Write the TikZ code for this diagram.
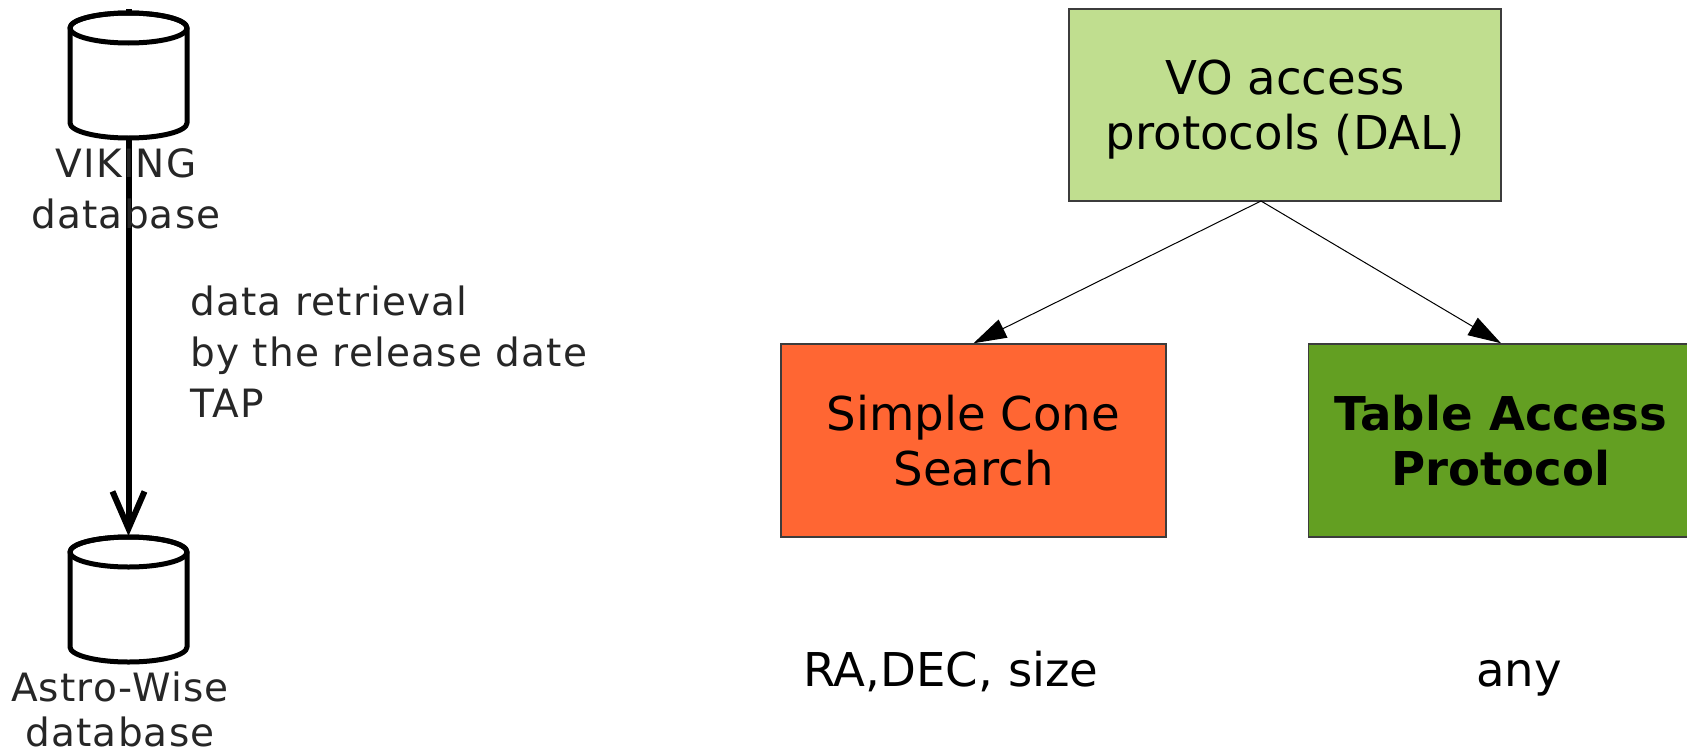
\documentclass[tikz,border=0pt]{standalone}
\usepackage{fontspec}
\setmainfont{DejaVu Sans}
\usetikzlibrary{arrows.meta,backgrounds}
\definecolor{dalgreen}{RGB}{192,222,143}
\definecolor{scsorange}{RGB}{255,102,51}
\definecolor{tapgreen}{RGB}{99,159,34}
\definecolor{boxline}{RGB}{60,60,60}
\tikzset{
  protobox/.style={draw=boxline, line width=0.75bp, inner sep=0pt, align=center,
    font=\fontsize{23.3bp}{27.5bp}\selectfont},
  protoarrow/.style={line width=0.5bp, -{Triangle[length=16.5bp,width=10bp]}},
  protolabel/.style={inner sep=0pt, font=\fontsize{23.3bp}{27.5bp}\selectfont},
  dbtext/.style={inner sep=0pt, font=\fontsize{19.5bp}{25.5bp}\selectfont\addfontfeature{LetterSpace=3}, text=black!85},
  dbline/.style={line width=2.5bp, line join=round, draw=black},
  dbarrow/.style={line width=3bp, -{Straight Barb[length=18.5bp,width=16bp]}},
  dbcyl/.pic={
    \draw[dbline, fill=white] (-58.5,0) -- (-58.5,95)
      arc[start angle=180, end angle=360, x radius=29.25bp, y radius=7.5bp]
      -- (58.5,0)
      arc[start angle=0, end angle=180, x radius=29.25bp, y radius=7.5bp] -- cycle;
    \draw[dbline] (0,0) ellipse[x radius=29.25bp, y radius=7.5bp];
    \coordinate (-src) at (0,-19);
    \coordinate (-dst) at (0,-16);
  }
}
\begin{document}
\begin{tikzpicture}[x=0.5bp, y=-0.5bp]
  \useasboundingbox (0,0) rectangle (1687,753);

  % left: databases
  \pic (viking) at (128.5,28) {dbcyl};
  \pic (astro) at (128.5,552) {dbcyl};
  \node[dbtext, align=center, anchor=north] (vikinglabel) at (126,148) {VIKING\\database};
  \node[dbtext, align=center, anchor=north] (astrolabel) at (120,671) {Astro-Wise\\[-3bp]database};
  \node[dbtext, align=left, anchor=north west] (retrieval) at (190,285)
    {data retrieval\\by the release date\\TAP};
  \begin{scope}[on background layer]
    \draw[dbarrow] (viking-src) -- (astro-dst);
  \end{scope}

  % right: VO protocols
  \node[protobox, fill=dalgreen, minimum width=216bp, minimum height=96bp, text depth=0pt] (dal)
    at (1285,105) {VO access\\protocols (DAL)};
  \node[protobox, fill=scsorange, minimum width=192.5bp, minimum height=96.5bp] (scs)
    at (973.5,440.5) {Simple Cone\\Search};
  \node[protobox, fill=tapgreen, minimum width=192.5bp, minimum height=96.5bp,
    font=\fontsize{23.3bp}{27.5bp}\selectfont\bfseries] (tap)
    at (1501,440.5) {Table Access\\Protocol};
  \coordinate (apex) at (1261,201);
  \draw[protoarrow] (apex) -- (scs.north);
  \draw[protoarrow] (apex) -- (tap.north);

  \node[protolabel, anchor=base west] (scsparam) at (803,686) {RA,DEC, size};
  \node[protolabel, anchor=base] (tapparam) at (1519,686) {any};
\end{tikzpicture}
\end{document}
